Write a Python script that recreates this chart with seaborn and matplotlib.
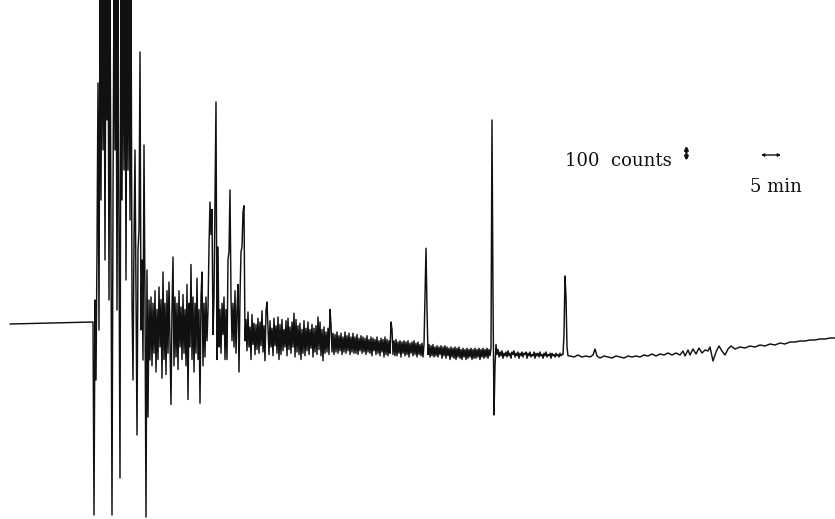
import numpy as np
import pandas as pd
import matplotlib
matplotlib.use("Agg")
import matplotlib.pyplot as plt
import seaborn as sns

# ---- data: counts vs. time (minutes) ----
# flat pre-event baseline
pre_time = [2.5, 23.0]
pre_counts = [-16, 0]

# burst + dense section, sampled every 0.25 min starting at 23.25 min
burst_start, burst_step = 23.25, 0.25
burst_counts = [
    0, -1544, 176, -464, 576, 1912, -64, 2800, 976, 2800,
    1376, 2800, 496, 2800, 1616, 2800, 176, 2800, 576, -1544,
    976, 2800, 1376, 2800, 96, 2800, 656, -1248, 2800, 976,
    2800, 1216, 2800, 336, 2800, 1216, 2800, 816, 2800, 176,
    -464, 656, 1376, 176, -904, 576, 736, 2160, -64, 496,
    -304, 1416, 176, -1560, 416, -760, 176, -304,
    # dense noise
    200, -350, 150, -250, 250, -400, 100, -300, 280, -200,
    180, -450, 400, -300, 150, -420, 250, -250, 320, -150,
    -660, 100, 520, -350, 200, -280, 150, -380, 250, -200,
    120, -300, 220, -250, 100, -350, 300, -620, 150, -200,
    460, -300, 200, -400, 150, -250, 350, -300, 100, -650,
    200, 400, -350, 150, -280, 200, -150, 100,
    # spikes
    600, 960, 700, 900, -100, 200, 1000, 1760, -300, 600,
    -200, 100, -250, 150, -100, 200, -300, 100, -300, 500,
    560, 1056, 200, -150, 150, -200, 250, -250, 100, 300,
    -400, 200, 560, 600, 880, 930, -150,
]

# decaying noise, every 0.25 min from 61.5 min
decay_start, decay_step = 61.5, 0.25
decay_counts = [
    20, -230, 80, -200, -40, -300, 60, -180, -10, -260,
    -20, -220, 30, -250, 0, -190, 90, -240, -30, -310,
    90, 160, -40, -260, 10, -200, -50, -270, 30, -190,
    -30, -250, 40, -300, -20, -260, 20, -230, -60, -200,
    10, -270, 30, -220, -40, -250, 0, -200, 70, -280,
    20, -240, -30, -260, -10, -300, -60, -250, 10, -270,
    -50, -230, 0, -260, -60, -210, -20, -280, -50, -240,
    -30, -260, 40, -220, 0, -270, -60, -310, -40, -250,
    -80, -240, -50, -260, 100, -20, -240, -90, -260, -100,
    -240, -80, -250, -110, -230, -90, -260, -120, -240, -80,
    -250, -110, -230, -90, -260, -120, -240, -90, -250, -120,
    -250, -100, -260, -130, -230, -110, -250, -120, -240, -130,
    -260, -110, -240, -140, -250, -120, -270, -130, -230, -140,
    -260, -120, -250, -150, -270, -130, -240, -140, -280, -120,
    -260, -140, -270, -150, -250, 0, -60, -260, -150, -270,
    -140, -270, -160, -250, -150, -280, -160, -250, -150, -270,
    -160, -260, -150, -280, -170, -250, -160, -270, -150, -260,
    -170, -280, -160, -260, -180, -270, -170, -280, -180, 200,
    590, 100, -260, -180, -280, -190, -270, -180, -280, -200,
    -270, -190, -280, -200, -260, -190, -290, -200, -270, -190,
    -290, -200, -270, -210, -300, -200, -280, -210, -290, -200,
    -300, -210, -280, -200, -290, -220, -300, -210, -280, -220,
    -300, -210, -290, -220, -280, -210, -300, -220, -290, -210,
    -290, -220, -280, -210, -300, -220, -280, -210, -290, -220,
    -280, -210, -290, -220, -270,
]

# large spike near 123 min, every 0.25 min
spike1_start, spike1_step = 122.75, 0.25
spike1_counts = [-210, 1616, 200, -744, -350, -180, -260]

# quiet noise, every 0.25 min
quiet_start, quiet_step = 124.5, 0.25
quiet_counts = [
    -220, -280, -240, -270, -230, -290, -250, -270, -240, -280,
    -230, -270, -250, -290, -240, -260, -230, -280, -250, -270,
    -240, -290, -250, -270, -240, -280, -250, -260, -240, -290,
    -250, -270, -240, -280, -260, -270, -240, -290, -250, -270,
    -250, -280, -240, -270, -260, -290, -250, -270, -240, -280,
    -260, -270, -250, -290, -250, -270, -260, -280, -250, -270,
    -260, -280, -250, -270, -260,
]

# spike near 141 min, every 0.25 min
spike2_start, spike2_step = 140.75, 0.25
spike2_counts = [-260, -100, 368, 200, -200, -270]

# slow tail
tail_time = [
    142.5, 143.5, 144.5, 145.5, 146.5, 147.5, 148.25, 148.75, 149.25, 150,
    151, 152, 153, 154, 155, 156, 157, 158, 159, 160,
    161, 162, 163, 164, 165, 166, 167, 168, 169, 170,
    170.75, 171.25, 172, 172.5, 173.25, 174, 174.75, 175.5, 176.25, 177,
    177.5, 178.25, 179, 179.75, 180.5, 181.25, 182, 182.75, 183.75, 185,
    186.25, 187.5, 188.75, 190, 191.25, 192.5, 193.75, 195, 196.25, 197.5,
    198.75, 200, 201.25, 202.5, 203.75, 205, 206.25, 207.5, 208.75,
]
tail_counts = [
    -272, -280, -264, -280, -272, -280, -264, -216, -272, -288,
    -272, -280, -288, -272, -280, -288, -272, -280, -272, -280,
    -264, -272, -256, -272, -256, -264, -248, -264, -248, -264,
    -232, -272, -224, -264, -216, -256, -208, -248, -224, -232,
    -200, -312, -240, -192, -232, -264, -216, -192, -216, -200,
    -208, -192, -200, -184, -192, -176, -184, -168, -176, -160,
    -160, -152, -152, -144, -144, -136, -136, -128, -128,
]

# ---- assemble ----
def seg(start, step, vals):
    return [start + step * i for i in range(len(vals))], list(vals)

times, counts = list(pre_time), list(pre_counts)
for s, st, v in [(burst_start, burst_step, burst_counts),
                 (decay_start, decay_step, decay_counts),
                 (spike1_start, spike1_step, spike1_counts),
                 (quiet_start, quiet_step, quiet_counts),
                 (spike2_start, spike2_step, spike2_counts)]:
    t, c = seg(s, st, v)
    times += t
    counts += c
times += tail_time
counts += tail_counts

df = pd.DataFrame({"time": times, "counts": counts})

sns.set_theme(style="white")
plt.rcParams["font.family"] = ["DejaVu Serif", "Liberation Serif"]

fig = plt.figure(figsize=(8.35, 5.19), dpi=100)
ax = fig.add_axes([0, 0, 1, 1])
sns.lineplot(data=df, x="time", y="counts", sort=False, estimator=None,
             color="#111111", linewidth=1.05, ax=ax)
ax.set_xlim(0, 208.75)
ax.set_ylim(-1576, 2576)
ax.axis("off")

# scale annotations
ax.text(141.25, 1290, "100  counts", fontsize=13, va="center", ha="left",
        color="#111111")
ax.annotate("", xy=(171.6, 1410), xytext=(171.6, 1290),
            arrowprops=dict(arrowstyle="<|-|>", lw=1.6, color="#111111",
                            mutation_scale=5, shrinkA=0, shrinkB=0))
ax.annotate("", xy=(190.25, 1336), xytext=(195.25, 1336),
            arrowprops=dict(arrowstyle="<|-|>", lw=1.0, color="#111111",
                            mutation_scale=4, shrinkA=0, shrinkB=0))
ax.text(194.0, 1080, "5 min", fontsize=13, va="center", ha="center",
        color="#111111")

fig.savefig("out.png", dpi=100, facecolor="white")
